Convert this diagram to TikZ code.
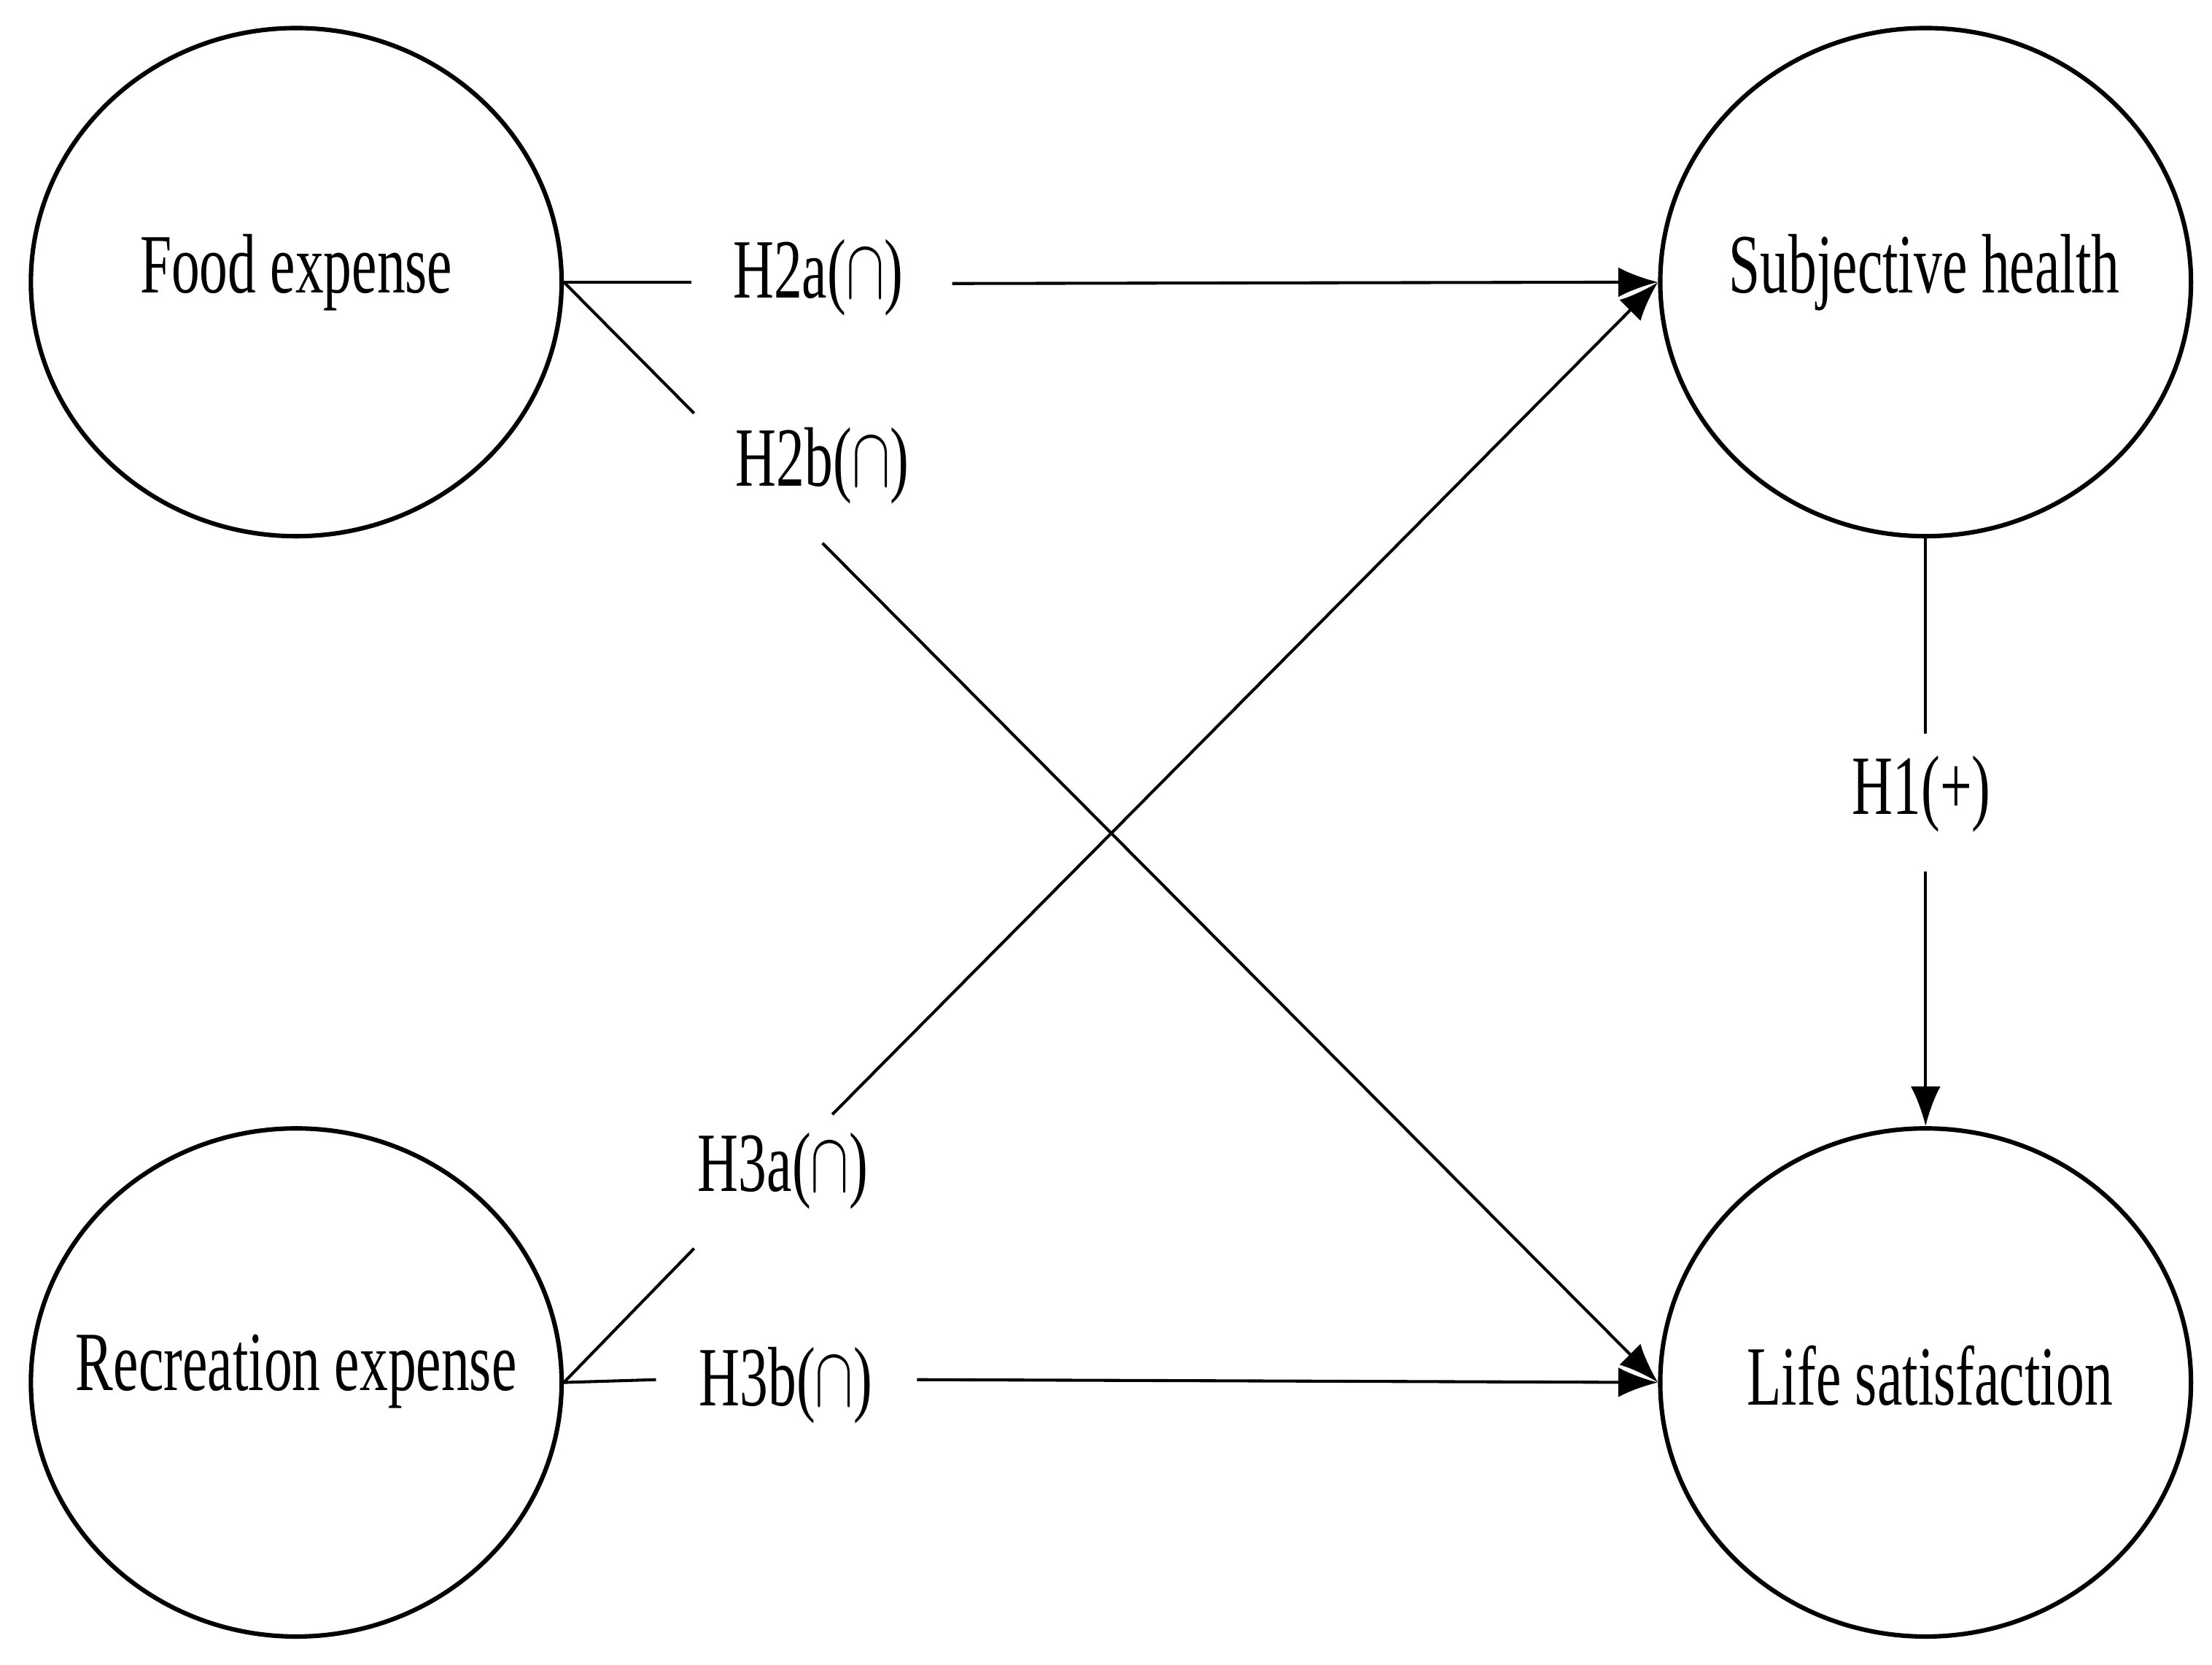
\documentclass[tikz,border=0pt]{standalone}
\usepackage{fontspec}
\setmainfont{Liberation Serif}
\usetikzlibrary{arrows.meta,shapes.geometric}
\newcommand{\sq}[1]{\scalebox{0.67}[1]{#1}}
\begin{document}
\begin{tikzpicture}[x=0.01cm,y=-0.01cm,
  var/.style={draw,line width=0.9pt,ellipse,minimum width=3.76cm,minimum height=3.6cm},
  lab/.style={font=\fontsize{17}{20}\selectfont,inner sep=0pt},
  con/.style={line width=0.6pt},
  arr/.style={con,-{Latex[length=8pt,width=6pt]}}]
\useasboundingbox (0,0) rectangle (1568,1180);
\node[var] (food) at (210,200) {};
\node[var] (health) at (1365,200) {};
\node[var] (rec) at (210,980) {};
\node[var] (life) at (1365,980) {};
\node[lab] at (210,193) {\sq{Food expense}};
\node[lab] at (1364,193) {\sq{Subjective health}};
\node[lab] at (210,972) {\sq{Recreation expense}};
\node[lab] at (1368,975) {\sq{Life satisfaction}};
\node[lab] (h2a) at (580,197) {\sq{H2a($\cap$)}};
\node[lab] (h2b) at (583,330) {\sq{H2b($\cap$)}};
\node[lab] (h3a) at (555,830) {\sq{H3a($\cap$)}};
\node[lab] (h3b) at (557,982) {\sq{H3b($\cap$)}};
\node[lab] (h1) at (1362,563) {\sq{H1(+)}};
\coordinate (a1) at (490,200); \coordinate (a2) at (675,201);
\coordinate (b1) at (492,293); \coordinate (b2) at (583,385);
\coordinate (c1) at (492,885); \coordinate (c2) at (590,790);
\coordinate (d1) at (465,978); \coordinate (d2) at (650,978);
\coordinate (e1) at (1365,520); \coordinate (e2) at (1365,618);
\draw[con] (food.east) -- (a1);
\draw[arr] (a2) -- (health.west);
\draw[con] (food.east) -- (b1);
\draw[arr] (b2) -- (life.west);
\draw[con] (rec.east) -- (c1);
\draw[arr] (c2) -- (health.west);
\draw[con] (rec.east) -- (d1);
\draw[arr] (d2) -- (life.west);
\draw[con] (health.south) -- (e1);
\draw[arr] (e2) -- (life.north);
\end{tikzpicture}
\end{document}
